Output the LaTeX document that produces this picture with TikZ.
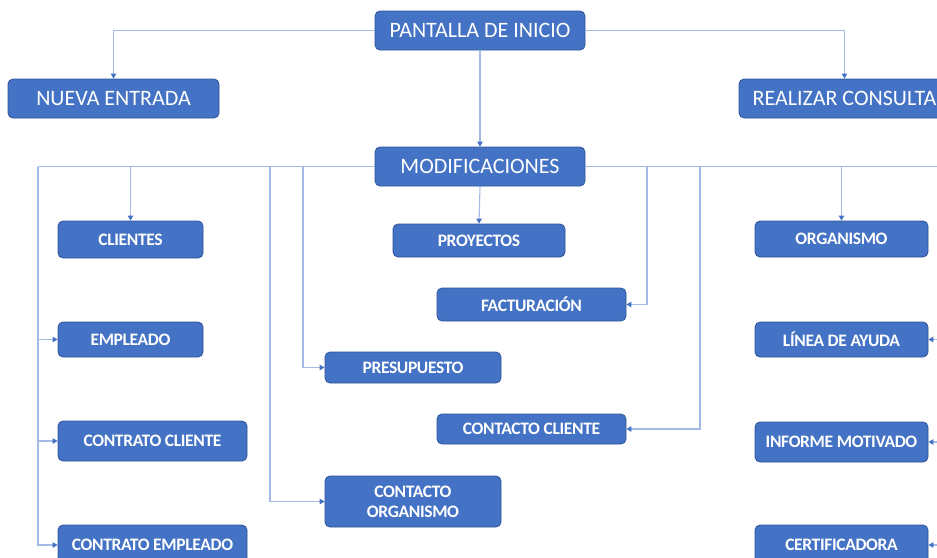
\documentclass[tikz,border=0pt]{standalone}
\usepackage{fontspec}
\setmainfont{Carlito}
\newfontfamily\boxfont[LetterSpace=-2]{Carlito}
\usetikzlibrary{arrows.meta}
\definecolor{boxblue}{HTML}{4472C4}
\definecolor{boxedge}{HTML}{2F5597}
\definecolor{linkblue}{HTML}{A3BBE4}
\begin{document}
\begin{tikzpicture}[x=1pt,y=-1pt,
  mainbox/.style={draw=boxedge,line width=0.8pt,fill=boxblue,rounded corners=5pt,
    text=white,inner sep=0pt,align=center,font=\fontsize{22}{25}\selectfont,
    minimum width=210pt,minimum height=39pt},
  subbox/.style={draw=boxedge,line width=0.8pt,fill=boxblue,rounded corners=5pt,
    text=white,inner sep=0pt,align=center,font=\boxfont\bfseries\fontsize{17.5}{20}\selectfont},
  link/.style={draw=linkblue,line width=1.1pt},
  arr/.style={link,-{Triangle[length=5pt,width=5.5pt,fill=boxblue,color=boxblue]}}]
\useasboundingbox (0,0) rectangle (937,557);
\clip (0,0) rectangle (937,557);

% top level
\node[mainbox] (pant) at (480,30.5) {PANTALLA DE INICIO};
\node[mainbox,minimum width=211pt] (nueva) at (113.5,98.5) {NUEVA ENTRADA};
\node[mainbox,minimum width=211pt] (real) at (844.5,98.5) {REALIZAR CONSULTA};
\node[mainbox] (mod) at (480,166.5) {MODIFICACIONES};

% left column
\node[subbox,minimum width=145pt,minimum height=37pt] (cli) at (130.5,239.5) {CLIENTES};
\node[subbox,minimum width=145pt,minimum height=35pt] (emp) at (130.5,339.5) {EMPLEADO};
\node[subbox,minimum width=189pt,minimum height=40pt] (ccli) at (152.5,441) {CONTRATO CLIENTE};
\node[subbox,minimum width=189pt,minimum height=40pt] (cemp) at (152.5,545) {CONTRATO EMPLEADO};

% middle column
\node[subbox,minimum width=172pt,minimum height=33pt] (proy) at (479,240.5) {PROYECTOS};
\node[subbox,minimum width=189pt,minimum height=33pt] (fact) at (531.5,304.5) {FACTURACIÓN};
\node[subbox,minimum width=176pt,minimum height=31pt] (pres) at (413,367.5) {PRESUPUESTO};
\node[subbox,minimum width=189pt,minimum height=30pt] (ccl) at (531.5,429) {CONTACTO CLIENTE};
\node[subbox,minimum width=176pt,minimum height=51pt,font=\boxfont\bfseries\fontsize{17.5}{20}\selectfont] (corg) at (413,501.5) {CONTACTO\\ORGANISMO};

% right column
\node[subbox,minimum width=173pt,minimum height=36pt] (org) at (841.5,239) {ORGANISMO};
\node[subbox,minimum width=173pt,minimum height=35pt] (lin) at (841.5,339.5) {LÍNEA DE AYUDA};
\node[subbox,minimum width=173pt,minimum height=40pt] (inf) at (841.5,442) {INFORME MOTIVADO};
\node[subbox,minimum width=173pt,minimum height=40pt] (cert) at (841.5,545) {CERTIFICADORA};

% bus branch points
\coordinate (bl) at (38,166.5);
\coordinate (b270) at (270,166.5);
\coordinate (b303) at (303,166.5);
\coordinate (b647) at (647,166.5);
\coordinate (b700) at (700,166.5);
\coordinate (br) at (948,166.5);

% connectors from the start screen
\draw[arr] (pant.west) -| (nueva.north);
\draw[arr] (pant.east) -| (real.north);
\draw[arr] (pant.south) -- (mod.north);

% left bus
\draw[link] (mod.west) -- (bl);
\draw[arr] (bl) |- (cemp.west);
\draw[arr] (bl |- emp.west) -- (emp.west);
\draw[arr] (bl |- ccli.west) -- (ccli.west);
\draw[arr] (cli.north |- mod.west) -- (cli.north);
\draw[arr] (b270) |- (corg.west);
\draw[arr] (b303) |- (pres.west);

% middle
\draw[arr] (mod.south) -- (proy.north);
\draw[arr] (b647) |- (fact.east);
\draw[arr] (b700) |- (ccl.east);

% right bus
\draw[link] (mod.east) -- (br);
\draw[arr] (org.north |- mod.east) -- (org.north);
\draw[arr] (br) |- (cert.east);
\draw[arr] (br |- lin.east) -- (lin.east);
\draw[arr] (br |- inf.east) -- (inf.east);
\end{tikzpicture}
\end{document}
